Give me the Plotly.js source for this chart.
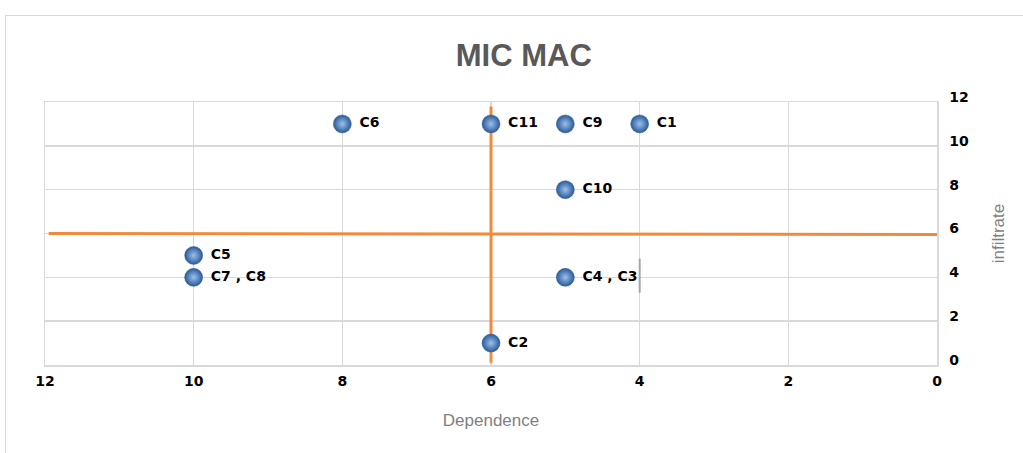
<!DOCTYPE html>
<html>
<head>
<meta charset="utf-8">
<script src="https://cdn.plot.ly/plotly-3.0.1.min.js"></script>
<style>
html,body{margin:0;padding:0;background:#fff;}
#wrap{position:relative;width:1023px;height:453px;overflow:hidden;}
#chart{position:absolute;left:0;top:0;width:1023px;height:453px;}
#frame{position:absolute;left:5px;top:15px;width:1030px;height:450px;border-top:1px solid #d9d9d9;border-left:1px solid #d9d9d9;pointer-events:none;}
</style>
</head>
<body>
<div id="wrap"><div id="chart"></div><div id="frame"></div></div>
<script>
// Data
const labels = ['C1', 'C9', 'C11', 'C6', 'C10', 'C5', 'C7 , C8', 'C4 , C3', 'C2'];
const dependence = [4, 5, 6, 8, 5, 10, 10, 5, 6];
const infiltrate = [11, 11, 11, 11, 8, 5, 4, 4, 1];
// quadrant dividers
const hLineX = [11.95, -0.05];
const hLineY = [6, 5.96];
const vLineX = [6, 6];
const vLineY = [11.8, 0.1];
// small leader line artifact
const leaderX = [4.0, 4.0];
const leaderY = [4.85, 3.3];
const xTicks = [0, 2, 4, 6, 8, 10, 12];
const yTicks = [0, 2, 4, 6, 8, 10, 12];

const tickFont = {family: 'DejaVu Sans', size: 14, color: '#000', weight: 'bold'};

const traces = [
  {x: leaderX, y: leaderY, mode: 'lines', line: {color: '#a6a6a6', width: 2}, hoverinfo: 'skip', showlegend: false},
  {x: hLineX, y: hLineY, mode: 'lines', line: {color: '#f28a3c', width: 3}, hoverinfo: 'skip', showlegend: false},
  {x: vLineX, y: vLineY, mode: 'lines', line: {color: '#f28a3c', width: 3}, hoverinfo: 'skip', showlegend: false},
  {
    x: dependence, y: infiltrate, text: labels,
    mode: 'markers+text', textposition: 'middle right',
    texttemplate: '\u00a0%{text}',
    textfont: {family: 'DejaVu Sans', size: 14, color: '#000', weight: 'bold'},
    marker: {
      size: 18, color: '#2a5a98',
      gradient: {type: 'radial', color: '#9cc0ec'},
      line: {color: '#2d5d9c', width: 0.5}
    },
    cliponaxis: false, showlegend: false
  }
];

const layout = {
  width: 1023, height: 453,
  margin: {l: 45, r: 86, t: 101.5, b: 88},
  paper_bgcolor: 'rgba(0,0,0,0)', plot_bgcolor: '#fff',
  title: {
    text: 'MIC MAC', x: 0.512, xanchor: 'center', y: 0.878, yanchor: 'middle',
    font: {family: 'Liberation Sans', size: 31, color: '#595959', weight: 'bold'}
  },
  xaxis: {
    range: [12, 0], tickvals: xTicks, ticktext: xTicks.map(String),
    showgrid: true, gridcolor: '#d9d9d9', gridwidth: 1.5,
    showline: true, linecolor: '#d9d9d9', linewidth: 1.5, mirror: true,
    zeroline: false, ticks: '', tickfont: tickFont, ticklabelstandoff: 3,
    title: {text: 'Dependence', standoff: 26, font: {family: 'Liberation Sans', size: 17, color: '#7f7f7f'}}
  },
  yaxis: {
    range: [0, 12], side: 'right', tickvals: yTicks, ticktext: yTicks.map(String),
    showgrid: true, gridcolor: '#d9d9d9', gridwidth: 1.5,
    showline: true, linecolor: '#d9d9d9', linewidth: 1.5, mirror: true,
    zeroline: false, ticks: '', tickfont: tickFont, ticklabelshift: -5, ticklabelstandoff: 8,
    title: {text: 'infiltrate', standoff: 24, font: {family: 'Liberation Sans', size: 17, color: '#7f7f7f'}}
  },
  font: {family: 'DejaVu Sans'}
};

Plotly.newPlot('chart', traces, layout, {displayModeBar: false, staticPlot: true});
</script>
</body>
</html>
